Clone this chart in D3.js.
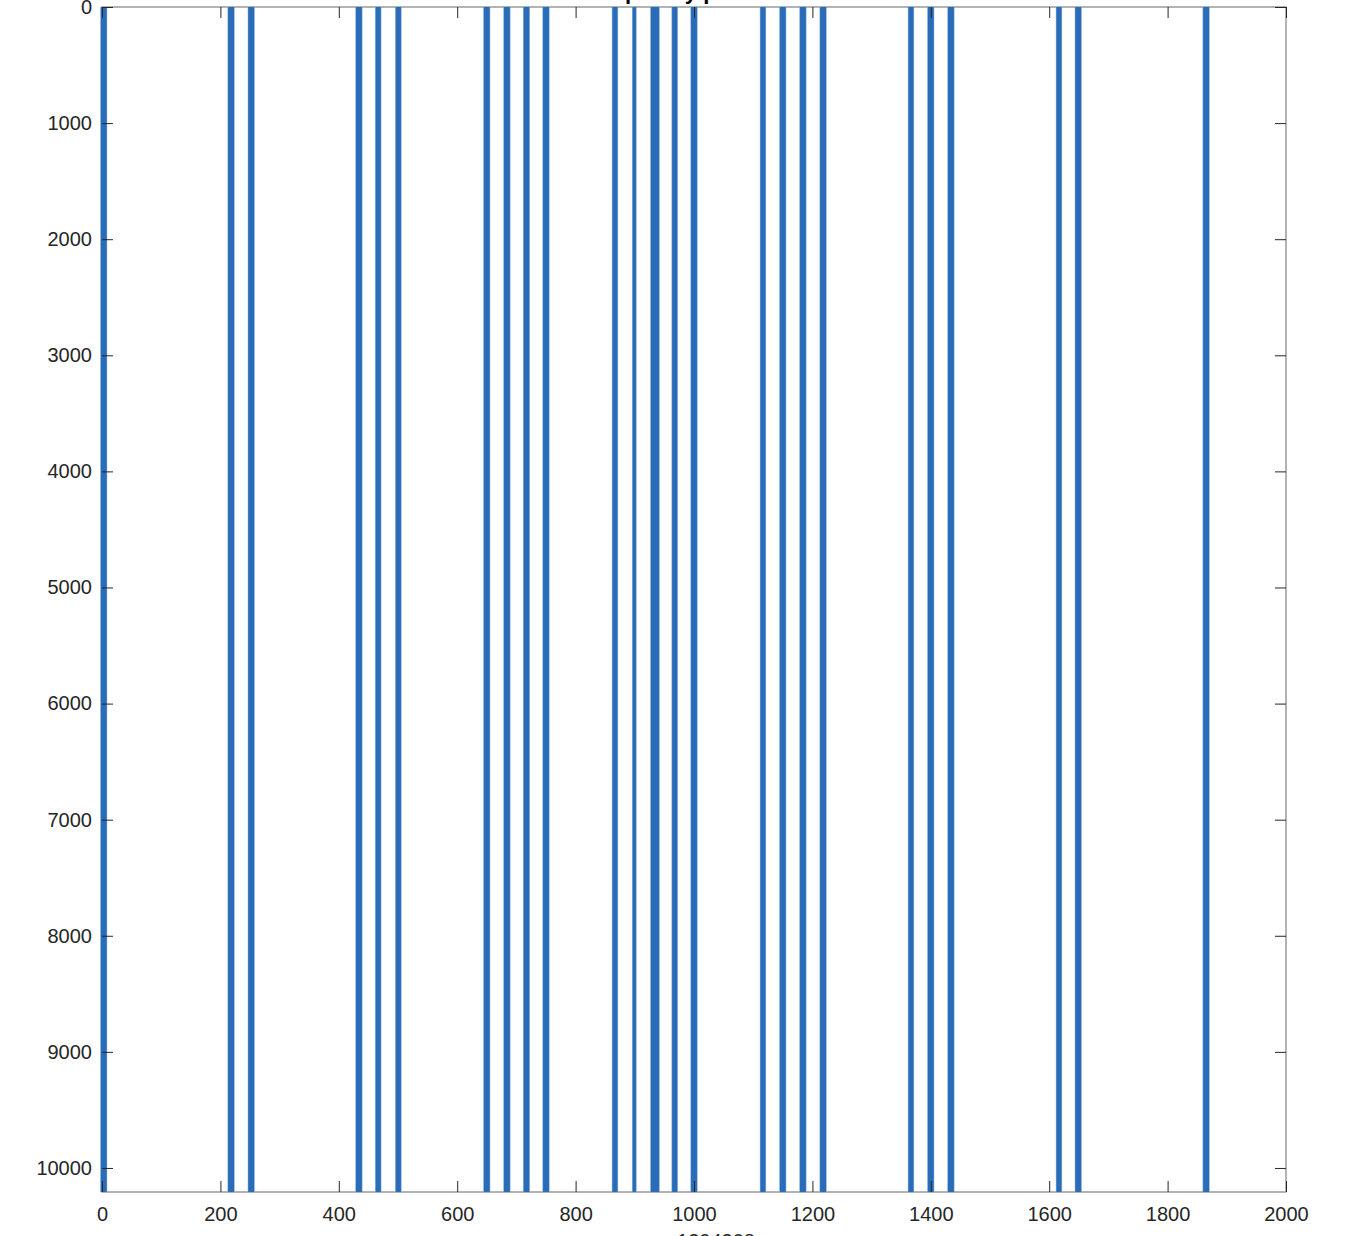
<!DOCTYPE html>
<html>
<head>
<meta charset="utf-8">
<script src="https://cdn.jsdelivr.net/npm/d3@7"></script>
<style>
    html, body { margin: 0; padding: 0; background: #fff; overflow: hidden; }
    svg { display: block; font-family: "Liberation Sans", Arial, sans-serif; }
</style>
</head>
<body>
<div id="chart"></div>
<script>
// Nonzero column bands of the matrix: first and last column index
const bandFirst = [1, 216, 250, 432, 465, 499, 648, 682, 715, 748, 865, 899, 930, 966, 998, 1115, 1148, 1182, 1216, 1365, 1398, 1432, 1615, 1647, 1863];
const bandLast  = [5, 220, 254, 436, 468, 502, 652, 686, 719, 752, 868, 899, 938, 969, 1002, 1118, 1152, 1186, 1220, 1368, 1402, 1436, 1618, 1651, 1867];

// Every row of those columns is filled
const nRows = 10206;
const nCols = 2000;

const xTicks = [0, 200, 400, 600, 800, 1000, 1200, 1400, 1600, 1800, 2000];
const yTicks = [0, 1000, 2000, 3000, 4000, 5000, 6000, 7000, 8000, 9000, 10000];

const titleText = 'Sparsity pattern';

const W = 1356, H = 1236;
const margin = { left: 102, right: 70, top: 7, bottom: 44 };
const width = W - margin.left - margin.right;
const height = H - margin.top - margin.bottom;

const bands = bandFirst.map((f, i) => ({ first: f, last: bandLast[i] }));
const nz = d3.sum(bands, b => (b.last - b.first + 1) * nRows);

const svg = d3.select('#chart')
    .append('svg')
    .attr('width', W)
    .attr('height', H);

const g = svg.append('g')
    .attr('transform', `translate(${margin.left},${margin.top})`);

// Scales
const x = d3.scaleLinear()
    .domain([0, nCols])
    .range([0, width]);

const y = d3.scaleLinear()
    .domain([0, nRows + 1])
    .range([0, height]);

// Box first, the markers sit on top of it
g.append('rect')
    .attr('width', width)
    .attr('height', height)
    .attr('fill', 'none')
    .attr('stroke', '#808080')
    .attr('stroke-width', 1.2);

// clip only top and bottom, spy markers may spill over the side edges
g.append('clipPath')
    .attr('id', 'plot-clip')
    .append('rect')
    .attr('x', -10)
    .attr('width', width + 20)
    .attr('height', height);

// Marker radius in pixels (spy uses dots)
const r = 2;

g.append('g')
    .attr('clip-path', 'url(#plot-clip)')
    .selectAll('rect')
    .data(bands)
    .join('rect')
    .attr('x', d => x(d.first) - r)
    .attr('width', d => x(d.last) - x(d.first) + 2 * r)
    .attr('y', y(1) - r)
    .attr('height', y(nRows) - y(1) + 2 * r)
    .attr('fill', '#2a6cb7')
    .attr('stroke', '#7fb0e0')
    .attr('stroke-width', 0.5);

// Axes, MATLAB style: ticks inside on all four sides
const tickLen = 11;
const axisStyle = sel => {
    sel.select('.domain').remove();
    sel.selectAll('.tick line').attr('stroke', '#262626').attr('stroke-width', 1);
    sel.selectAll('.tick text')
        .attr('fill', '#262626')
        .style('font-size', '20px');
};

g.append('g')
    .attr('transform', `translate(0,${height})`)
    .call(d3.axisBottom(x).tickValues(xTicks).tickSize(-tickLen).tickPadding(15).tickFormat(d3.format('d')))
    .call(axisStyle);

g.append('g')
    .call(d3.axisTop(x).tickValues(xTicks).tickSize(-tickLen).tickFormat(''))
    .call(axisStyle);

g.append('g')
    .call(d3.axisLeft(y).tickValues(yTicks).tickSize(-tickLen).tickPadding(10).tickFormat(d3.format('d')))
    .call(axisStyle);

g.append('g')
    .attr('transform', `translate(${width},0)`)
    .call(d3.axisRight(y).tickValues(yTicks).tickSize(-tickLen).tickFormat(''))
    .call(axisStyle);

// Title (mostly above the visible page)
g.append('text')
    .attr('x', width / 2)
    .attr('y', -8)
    .attr('text-anchor', 'middle')
    .attr('fill', '#000')
    .style('font-size', '22px')
    .style('font-weight', 'bold')
    .text(titleText);

// X label (mostly below the visible page)
g.append('text')
    .attr('x', width / 2)
    .attr('y', height + 56)
    .attr('text-anchor', 'middle')
    .attr('fill', '#262626')
    .style('font-size', '20px')
    .text(`nz = ${nz}`);
</script>
</body>
</html>
